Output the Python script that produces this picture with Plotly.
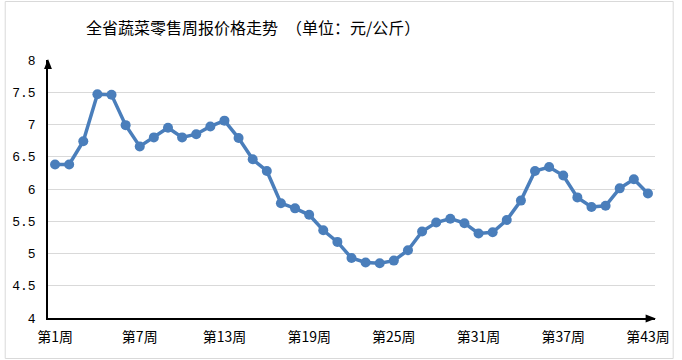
import plotly.graph_objects as go

weeks = [f"第{i}周" for i in range(1, 44)]
prices = [6.38, 6.38, 6.74, 7.47, 7.46, 6.99, 6.66, 6.80, 6.95, 6.80,
          6.85, 6.97, 7.06, 6.79, 6.46, 6.28, 5.78, 5.70, 5.60, 5.36,
          5.18, 4.93, 4.86, 4.85, 4.89, 5.05, 5.34, 5.48, 5.54, 5.47,
          5.31, 5.33, 5.52, 5.82, 6.28, 6.34, 6.21, 5.87, 5.72, 5.74,
          6.01, 6.15, 5.93]
shown_ticks = weeks[::6]
y_ticks = [4, 4.5, 5, 5.5, 6, 6.5, 7, 7.5, 8]
y_labels = ["4", "4.5", "5", "5.5", "6", "6.5", "7", "7.5", "8"]
title_text = "全省蔬菜零售周报价格走势　（单位：元/公斤）"

W, H = 682, 360
L, R, T, B = 45, 20, 60, 42
pw, ph = W - L - R, H - T - B


def px(x):
    return (x - L) / pw


def py(y):
    return (H - B - y) / ph


fig = go.Figure()
fig.add_trace(go.Scatter(
    x=weeks, y=prices, mode="lines+markers",
    line=dict(color="#4a7ebb", width=3.5),
    marker=dict(color="#4a7ebb", size=10),
    hoverinfo="x+y", showlegend=False,
))

shapes = [
    # outer border
    dict(type="rect", xref="paper", yref="paper",
         x0=px(1.5), x1=px(W - 1.5), y0=py(H - 1.5), y1=py(1.5),
         line=dict(color="#d9d9d9", width=1), fillcolor="rgba(0,0,0,0)", layer="below"),
    # y-axis arrow head
    dict(type="path", xref="paper", yref="paper",
         path=f"M {px(45)} {py(59)} L {px(41)} {py(69)} L {px(49)} {py(69)} Z",
         fillcolor="black", line=dict(color="black", width=0)),
    # x-axis arrow head
    dict(type="path", xref="paper", yref="paper",
         path=f"M {px(663)} {py(318.5)} L {px(652.5)} {py(314.5)} L {px(652.5)} {py(322.5)} Z",
         fillcolor="black", line=dict(color="black", width=0)),
]

fig.update_layout(
    width=W, height=H,
    margin=dict(l=L, r=R, t=T, b=B),
    paper_bgcolor="white", plot_bgcolor="white",
    font=dict(family="Noto Sans CJK SC", color="black"),
    title=dict(text=title_text, font=dict(size=16, family="Noto Sans CJK SC", color="black"),
               x=86 / W, xanchor="left", xref="container",
               y=1 - 28 / H, yanchor="middle", yref="container"),
    xaxis=dict(type="category", categoryorder="array", categoryarray=weeks,
               range=[-0.5, len(weeks) - 0.5],
               tickmode="array", tickvals=shown_ticks, ticktext=shown_ticks,
               showline=True, linecolor="black", linewidth=1.5,
               showgrid=False, ticks="outside", ticklen=5, tickcolor="rgba(0,0,0,0)",
               tickfont=dict(size=14, family="Noto Sans CJK SC", color="black"),
               tickangle=0, fixedrange=True),
    yaxis=dict(range=[4, 8], tickmode="array", tickvals=y_ticks, ticktext=y_labels,
               showline=True, linecolor="black", linewidth=1.5,
               showgrid=True, gridcolor="#d9d9d9", gridwidth=1,
               zeroline=False, ticks="outside", ticklen=8, tickcolor="rgba(0,0,0,0)",
               tickfont=dict(size=13, family="Liberation Mono", color="black"),
               fixedrange=True),
    shapes=shapes,
)

fig.write_html("out.html", config={"displayModeBar": False},
               post_script="document.body.style.margin='0';document.body.style.overflow='hidden';")
